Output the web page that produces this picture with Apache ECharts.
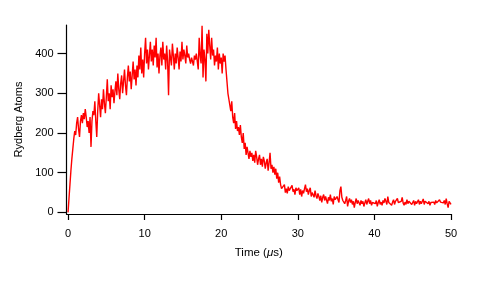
<!DOCTYPE html>
<html>
<head>
<meta charset="utf-8">
<script src="https://cdn.jsdelivr.net/npm/echarts@6/dist/echarts.min.js"></script>
<style>html,body{margin:0;padding:0;background:#fff}#c{width:485px;height:289px}</style>
</head>
<body>
<div id="c"></div>
<script>
// Sample spacing of the recorded trace (microseconds)
const sampleStep = 0.125;
// Rydberg atom counts, one row per microsecond (8 samples each)
const rydbergCounts = [
  0, 35, 70, 105, 135, 160, 185, 205,
  195, 225, 240, 210, 190, 230, 245, 225,
  250, 235, 260, 240, 215, 230, 200, 240,
  165, 230, 255, 245, 280, 230, 190, 255,
  300, 270, 240, 285, 260, 310, 275, 250,
  290, 335, 280, 300, 260, 320, 290, 310,
  275, 305, 330, 295, 350, 310, 285, 325,
  345, 300, 330, 360, 320, 295, 340, 370,
  330, 355, 310, 345, 380, 335, 360, 320,
  370, 340, 395, 360, 415, 350, 385, 340,
  400, 440, 375, 410, 360, 395, 430, 380,
  410, 370, 420, 390, 440, 365, 400, 350,
  395, 415, 370, 430, 385, 400, 360, 420,
  380, 295, 410, 390, 370, 425, 395, 360,
  400, 375, 415, 390, 360, 405, 380, 430,
  385, 410, 395, 375, 420, 390, 400, 385,
  375, 390, 380, 370, 395, 385, 400, 380,
  360, 440, 395, 375, 470, 340, 410, 385,
  330, 450, 400, 460, 420, 385, 440, 395,
  410, 370, 395, 380, 415, 360, 400, 375,
  390, 350, 400, 380, 395, 360, 330, 300,
  285, 270, 255, 280, 240, 225, 250, 210,
  230, 205, 215, 195, 220, 190, 175, 200,
  160, 175, 145, 165, 150, 135, 155, 140,
  150, 130, 145, 125, 155, 140, 120, 135,
  145, 120, 135, 115, 140, 130, 110, 125,
  135, 105, 125, 150, 110, 120, 100, 115,
  95, 110, 85, 100, 75, 90, 70, 60,
  65, 55, 70, 50, 60, 48, 65, 55,
  60, 50, 68, 52, 58, 45, 62, 55,
  50, 62, 45, 58, 40, 55, 48, 60,
  70, 52, 60, 45, 55, 62, 40, 50,
  45, 38, 55, 42, 35, 48, 40, 30,
  42, 25, 38, 45, 30, 40, 35, 22,
  38, 30, 45, 28, 35, 20, 40, 32,
  28, 40, 32, 25, 55, 65, 38, 30,
  35, 22, 30, 40, 15, 28, 35, 25,
  32, 20, 28, 12, 25, 35, 22, 30,
  25, 18, 30, 22, 28, 15, 24, 32,
  20, 28, 35, 22, 30, 18, 25, 20,
  28, 22, 30, 15, 25, 32, 20, 26,
  18, 30, 24, 35, 28, 20, 40, 25,
  22, 30, 18, 26, 32, 20, 28, 24,
  35, 25, 30, 20, 28, 38, 24, 18,
  26, 20, 32, 22, 28, 24, 30, 20,
  25, 30, 18, 28, 22, 26, 32, 20,
  28, 22, 26, 34, 20, 28, 24, 30,
  22, 28, 18, 25, 30, 22, 26, 20,
  30, 24, 28, 20, 32, 26, 22, 28,
  24, 30, 20, 35, 22, 12, 28, 25,
  20
];
const xTicks = [0, 10, 20, 30, 40, 50];
const yTicks = [0, 100, 200, 300, 400];

const seriesData = rydbergCounts.map((v, i) => [i * sampleStep, v]);
const font = '"Liberation Sans", Arial, Helvetica, sans-serif';

const chart = echarts.init(document.getElementById('c'), null, {renderer: 'canvas'});
chart.setOption({
  animation: false,
  backgroundColor: '#ffffff',
  grid: {left: 66.5, right: 34, top: 25, bottom: 75, containLabel: false},
  xAxis: {
    type: 'value', min: -0.2, max: 50,
    axisLine: {show: true, onZero: false, lineStyle: {color: '#000', width: 1.2}},
    axisTick: {show: true, inside: false, length: 6, customValues: xTicks, lineStyle: {color: '#000', width: 1.2}},
    axisLabel: {customValues: xTicks, color: '#000', fontFamily: font, fontSize: 11, margin: 14},
    splitLine: {show: false},
    name: '{n|Time (}{i|μ}{n|s)}',
    nameLocation: 'middle', nameGap: 33,
    nameTextStyle: {rich: {n: {fontFamily: font, fontSize: 11.5, color: '#000'}, i: {fontFamily: font, fontSize: 11.5, fontStyle: 'italic', color: '#000'}}}
  },
  yAxis: {
    type: 'value', min: -4, max: 472,
    axisLine: {show: true, onZero: false, lineStyle: {color: '#000', width: 1.2}},
    axisTick: {show: true, inside: false, length: 9, customValues: yTicks, lineStyle: {color: '#000', width: 1.2}},
    axisLabel: {customValues: yTicks, color: '#000', fontFamily: font, fontSize: 11, margin: 13},
    splitLine: {show: false},
    name: 'Rydberg Atoms', nameLocation: 'middle', nameGap: 42, nameRotate: 90,
    nameTextStyle: {fontFamily: font, fontSize: 11, color: '#000'}
  },
  series: [{
    type: 'line', data: seriesData, showSymbol: false, symbol: 'none',
    lineStyle: {color: '#ff0000', width: 1.4}, clip: true
  }]
});
</script>
</body>
</html>
